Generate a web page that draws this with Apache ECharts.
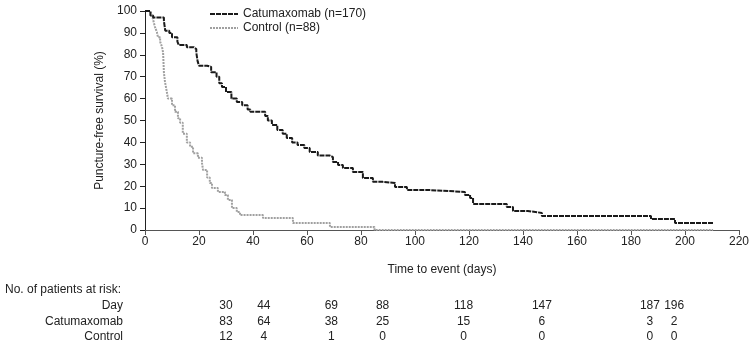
<!DOCTYPE html>
<html>
<head>
<meta charset="utf-8">
<script src="https://cdn.jsdelivr.net/npm/echarts@6/dist/echarts.min.js"></script>
<style>
  html, body { margin: 0; padding: 0; background: #fff; }
  #km-chart { width: 753px; height: 348px; }
</style>
</head>
<body>
<div id="km-chart"></div>
<script>
//----------------------Data----------------------
let cat_days = [0, 2, 3, 7, 7.5, 9, 10, 12, 12.5, 15.5, 18, 19, 19.5, 20, 23, 24.5, 26.5, 27.5, 28.5, 30,
    32, 34, 36, 38, 39, 44.5, 45.5, 47, 49, 51, 52.5, 54.5, 56.5, 59, 61, 64, 68.5, 69.6, 71.5, 73.3,
    77, 80.7, 84.4, 88, 92.6, 97, 104.4, 118.5, 120.4, 121.5, 134, 136.3, 141.8, 147, 187.4, 196.3, 210.4];
let cat_surv = [100, 98, 97, 95.5, 91, 90, 88, 86, 84.5, 83.5, 82.6, 81, 77, 75, 74.5, 72, 70, 67, 65.3, 63,
    60, 58.5, 57, 55, 54, 52, 50, 48, 45.7, 44, 42, 40, 38.8, 37.4, 35.6, 34, 33.3, 31, 29.7, 28.3,
    26.5, 23.7, 22, 21.5, 19.6, 18.3, 17.4, 16, 14.6, 11.9, 10.5, 8.7, 7.8, 6.4, 5, 3.2, 3.2];

let ctl_days = [0, 1.9, 2.6, 3, 3.7, 4.4, 4.8, 5.6, 6.3, 6.7, 7, 7.4, 8.1, 8.5, 10, 11.1, 12.2, 13, 14,
    15.5, 16.7, 17.8, 19.6, 21.1, 21.5, 23, 24, 24.8, 27, 29.6, 30.7, 32.2, 34, 35.2, 43.7, 54.8, 68.5, 85, 210.4];
let ctl_surv = [100, 99.5, 98, 96, 92.7, 90.4, 88, 86, 83.6, 81, 72, 67.6, 63, 60, 57, 54, 51, 49, 44,
    40, 38, 35, 33, 30.6, 27.4, 24, 21.5, 19.2, 17.4, 16, 13.7, 10, 8.2, 6.8, 5.5, 3.2, 1.4, 0, 0];

let risk_days = [30, 44, 69, 88, 118, 147, 187, 196];
let risk_cat = [83, 64, 38, 25, 15, 6, 3, 2];
let risk_ctl = [12, 4, 1, 0, 0, 0, 0, 0];

let series_names = ["Catumaxomab (n=170)", "Control (n=88)"];
let risk_row_names = ["Day", "Catumaxomab", "Control"];

function zip(xs, ys) {
    return xs.map(function (x, i) { return [x, ys[i]]; });
}

//---------------------Chart---------------------
let km_dom = document.getElementById("km-chart");
let km_chart = echarts.init(km_dom);
let font = "Liberation Sans, Arial, sans-serif";

let km_option = {
    animation: false,
    backgroundColor: "#fff",
    textStyle: {fontFamily: font},
    grid: {left: 145, right: 14, top: 11, bottom: 118},
    legend: {
        orient: "vertical",
        left: 204,
        top: 3,
        itemGap: 2,
        itemWidth: 28,
        itemHeight: 10,
        itemStyle: {opacity: 0},
        textStyle: {fontSize: 12, color: "#222", fontFamily: font},
        data: series_names
    },
    xAxis: {
        type: "value",
        min: 0, max: 220, interval: 20,
        name: "Time to event (days)",
        nameLocation: "middle",
        nameGap: 34,
        nameTextStyle: {fontSize: 12, color: "#222"},
        axisLine: {lineStyle: {color: "#555", width: 1}},
        axisTick: {length: 5, lineStyle: {color: "#555"}},
        axisLabel: {fontSize: 12, color: "#222", margin: 6},
        splitLine: {show: false}
    },
    yAxis: {
        type: "value",
        min: 0, max: 100, interval: 10,
        name: "Puncture-free survival (%)",
        nameLocation: "middle",
        nameGap: 33,
        nameTextStyle: {fontSize: 12, color: "#222"},
        axisLine: {show: true, lineStyle: {color: "#222", width: 1}},
        axisTick: {show: true, length: 5, lineStyle: {color: "#222"}},
        axisLabel: {fontSize: 12, color: "#222", margin: 8},
        splitLine: {show: false}
    },
    series: [
        {
            name: series_names[0],
            type: "line",
            step: "end",
            symbol: "none",
            data: zip(cat_days, cat_surv),
            lineStyle: {color: "#1a1a1a", width: 2, type: [5, 1]},
            itemStyle: {color: "#1a1a1a"},
            z: 3
        },
        {
            name: series_names[1],
            type: "line",
            step: "end",
            symbol: "none",
            data: zip(ctl_days, ctl_surv),
            lineStyle: {color: "#a0a0a0", width: 2, type: [2, 1]},
            itemStyle: {color: "#a0a0a0"},
            z: 2
        }
    ]
};
km_chart.setOption(km_option, true);

//------------------At-risk table------------------
let row_y = [306, 322, 337];
let rows = [risk_days, risk_cat, risk_ctl];
let table_items = [{
    type: "text", left: 5, top: 284,
    style: {text: "No. of patients at risk:", font: "12px " + font, fill: "#222"}
}];
rows.forEach(function (row, r) {
    table_items.push({
        type: "text", x: 123, y: row_y[r],
        style: {text: risk_row_names[r], font: "12px " + font, fill: "#222",
            align: "right", verticalAlign: "middle"}
    });
    row.forEach(function (v, i) {
        let px = km_chart.convertToPixel({xAxisIndex: 0}, risk_days[i]);
        table_items.push({
            type: "text", x: px, y: row_y[r],
            style: {text: String(v), font: "12px " + font, fill: "#222",
                align: "center", verticalAlign: "middle"}
        });
    });
});
km_chart.setOption({graphic: table_items});
</script>
</body>
</html>
